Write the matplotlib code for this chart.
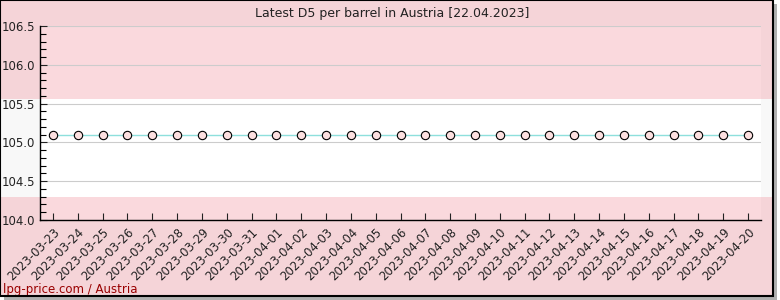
import matplotlib.pyplot as plt
from matplotlib.patches import Rectangle
from matplotlib.ticker import MultipleLocator

dates = ['2023-03-23', '2023-03-24', '2023-03-25', '2023-03-26', '2023-03-27', '2023-03-28',
         '2023-03-29', '2023-03-30', '2023-03-31', '2023-04-01', '2023-04-02', '2023-04-03',
         '2023-04-04', '2023-04-05', '2023-04-06', '2023-04-07', '2023-04-08', '2023-04-09',
         '2023-04-10', '2023-04-11', '2023-04-12', '2023-04-13', '2023-04-14', '2023-04-15',
         '2023-04-16', '2023-04-17', '2023-04-18', '2023-04-19', '2023-04-20']
prices = [105.1] * len(dates)

fig = plt.figure(figsize=(7.8, 3.0), dpi=100)
fig.patch.set_facecolor('white')

# flag bands over the whole card (red / white / red)
W, H = 773 / 780, 296 / 300
y0 = 1 - H
third = H / 3
fig.patches.append(Rectangle((4 / 780, y0 - 4 / 300), W, H, transform=fig.transFigure,
                             facecolor='#b0b0b0', edgecolor='none', zorder=-3))
for k, col in enumerate(['#f5d4d8', '#f8f8f8', '#f5d4d8']):
    fig.patches.append(Rectangle((0, y0 + k * third), W, third, transform=fig.transFigure,
                                 facecolor=col, edgecolor='none', zorder=-2))
fig.patches.append(Rectangle((0, y0), W, H, transform=fig.transFigure,
                             facecolor='none', edgecolor='black', linewidth=1.5, zorder=5))

ax = fig.add_axes([40 / 780, 80 / 300, 721 / 780, 194 / 300])
ax.set_facecolor('none')

# lighter bands inside the plot area
left, bottom, width, height = ax.get_position().bounds
for k, col in enumerate(['#fad9dd', '#ffffff', '#fad9dd']):
    lo = max(y0 + k * third, bottom)
    hi = min(y0 + (k + 1) * third, bottom + height)
    fig.patches.append(Rectangle((left, lo), width, hi - lo, transform=fig.transFigure,
                                 facecolor=col, edgecolor='none', zorder=-1))

x = list(range(len(dates)))
ax.plot(x, prices, color='#8ee0dc', linewidth=1, zorder=2)
ax.plot(x, prices, linestyle='none', marker='o', markersize=6,
        markerfacecolor='#fde0e0', markeredgecolor='black', markeredgewidth=0.8, zorder=3)

ax.set_xlim(-0.52, len(dates) - 1 + 0.52)
ax.set_ylim(104.0, 106.5)
ax.yaxis.set_major_locator(MultipleLocator(0.5))
ax.yaxis.set_minor_locator(MultipleLocator(0.1))
ax.yaxis.set_major_formatter(plt.FormatStrFormatter('%.1f'))
ax.set_xticks(x)
ax.set_xticklabels(dates, rotation=45, ha='right', rotation_mode='anchor')
ax.tick_params(axis='both', direction='in', length=5, width=0.8, labelsize=8.5, colors='#222222')
ax.tick_params(axis='y', which='minor', direction='in', length=4, width=0.8)
ax.tick_params(axis='x', pad=4)
ax.grid(axis='y', color='#cccccc', linewidth=0.8)
ax.set_axisbelow(True)
for s in ['top', 'right']:
    ax.spines[s].set_visible(False)
for s in ['left', 'bottom']:
    ax.spines[s].set_linewidth(1.0)

fig.text(392 / 780, 1 - 13 / 300, 'Latest D5 per barrel in Austria [22.04.2023]',
         ha='center', va='center', fontsize=9, color='#222222')
fig.text(3 / 780, 1 - 289 / 300, 'lpg-price.com / Austria', ha='left', va='center',
         fontsize=8.5, color='#990000')

fig.savefig('out.png', dpi=100)
